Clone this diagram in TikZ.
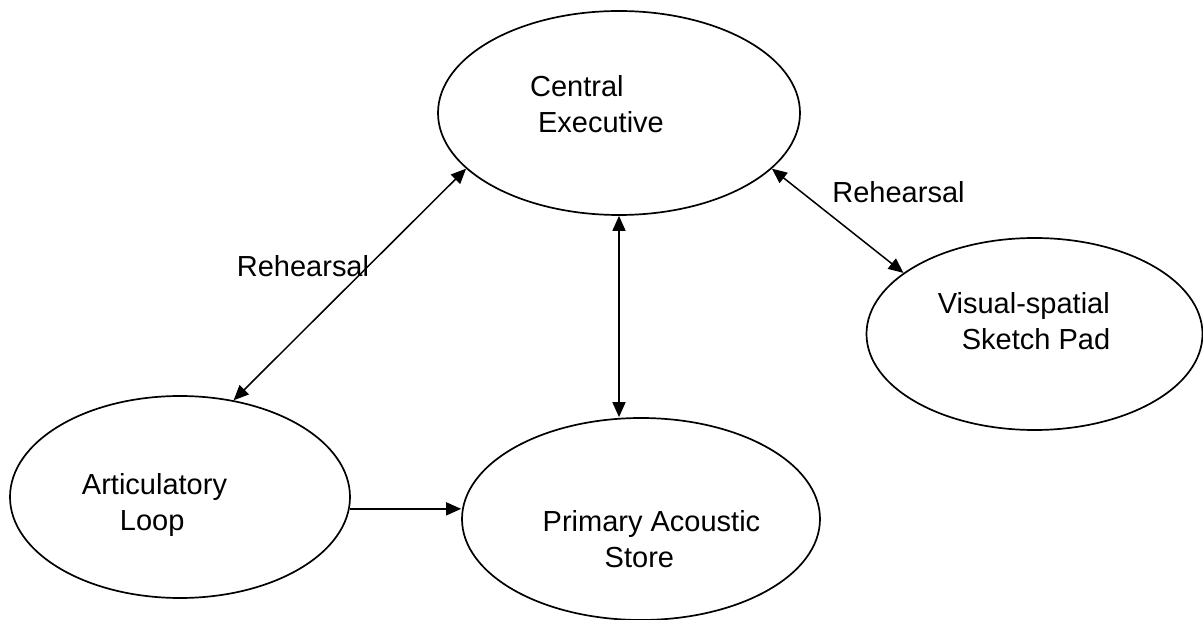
\documentclass[tikz,border=0pt]{standalone}
\usepackage{fontspec}
\setmainfont{Liberation Sans}
\usetikzlibrary{shapes.geometric,arrows.meta}

\begin{document}
\begin{tikzpicture}[x=1pt, y=-1pt, >={Triangle[length=15pt,width=13pt]},
    every node/.style={font=\fontsize{29}{36}\selectfont, inner sep=0pt},
    blob/.style={draw, ellipse, line width=1.7pt},
    link/.style={line width=1.5pt},
    lbl/.style={align=left}]
  \useasboundingbox (0,0) rectangle (1203,620);
  % the four stores
  \node[blob, minimum width=362pt, minimum height=204pt] (ce) at (619,113) {};
  \node[blob, minimum width=336pt, minimum height=192pt] (vs) at (1034.5,334) {};
  \node[blob, minimum width=340pt, minimum height=202pt] (al) at (180,497) {};
  \node[blob, minimum width=358pt, minimum height=202pt] (pas) at (641,519) {};
  % their texts
  \node[lbl] (cetext) at (597,104) {Central\\\hspace*{8pt}Executive};
  \node[lbl] (vstext) at (1024,321) {Visual-spatial\\\hspace*{24pt}Sketch Pad};
  \node[lbl] (altext) at (154.5,505) {Articulatory\\\hspace*{38pt}Loop};
  \node[lbl] (pastext) at (651.5,539.5) {Primary Acoustic\\\hspace*{62pt}Store};
  \node (rehl) at (303,266.5) {Rehearsal};
  \node (rehr) at (898.5,192.5) {Rehearsal};
  % links
  \draw[<->, link] (ce.200) -- (al.61);
  \draw[<->, link] (ce.340) -- (vs.155);
  \draw[<->, link] (ce.south) -- (ce.south |- pas.north);
  \draw[->, link] (al.-4) -- (al.-4 -| pas.west);
\end{tikzpicture}
\end{document}
